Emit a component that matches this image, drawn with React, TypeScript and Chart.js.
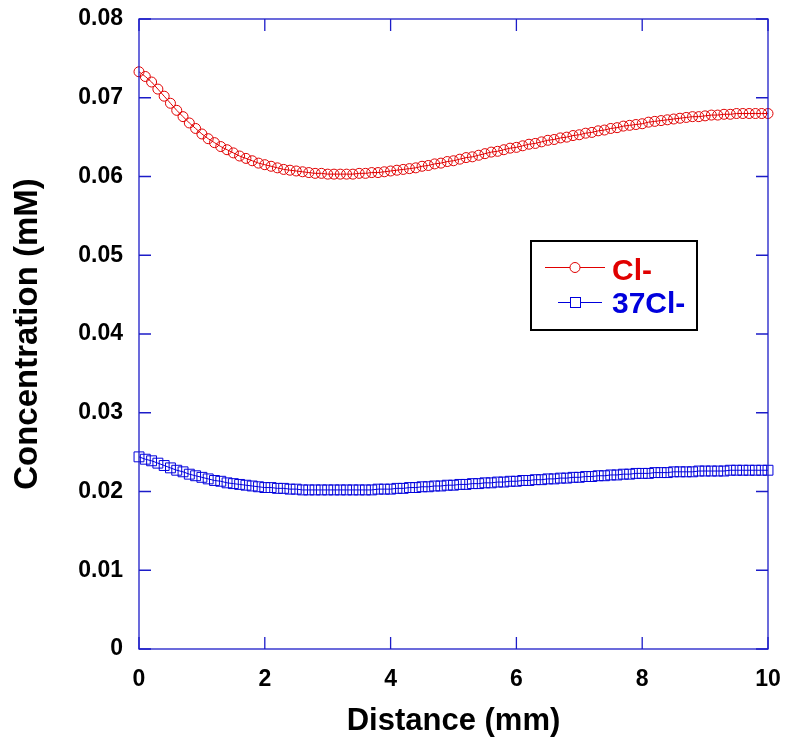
import React, { useEffect, useRef } from "react";
import { Chart, registerables } from "chart.js";

Chart.register(...registerables);

const distances = [
  0.0, 0.1, 0.2, 0.3, 0.4, 0.5, 0.6, 0.7, 0.8, 0.9,
  1.0, 1.1, 1.2, 1.3, 1.4, 1.5, 1.6, 1.7, 1.8, 1.9,
  2.0, 2.1, 2.2, 2.3, 2.4, 2.5, 2.6, 2.7, 2.8, 2.9,
  3.0, 3.1, 3.2, 3.3, 3.4, 3.5, 3.6, 3.7, 3.8, 3.9,
  4.0, 4.1, 4.2, 4.3, 4.4, 4.5, 4.6, 4.7, 4.8, 4.9,
  5.0, 5.1, 5.2, 5.3, 5.4, 5.5, 5.6, 5.7, 5.8, 5.9,
  6.0, 6.1, 6.2, 6.3, 6.4, 6.5, 6.6, 6.7, 6.8, 6.9,
  7.0, 7.1, 7.2, 7.3, 7.4, 7.5, 7.6, 7.7, 7.8, 7.9,
  8.0, 8.1, 8.2, 8.3, 8.4, 8.5, 8.6, 8.7, 8.8, 8.9,
  9.0, 9.1, 9.2, 9.3, 9.4, 9.5, 9.6, 9.7, 9.8, 9.9,
  10.0,
];

const clValues = [
  0.0733, 0.0727, 0.0720, 0.0711, 0.0702, 0.0693, 0.0684, 0.0676, 0.0668, 0.0661,
  0.0654, 0.0648, 0.0643, 0.0638, 0.0634, 0.0630, 0.0626, 0.0623, 0.0620, 0.0617,
  0.0615, 0.0613, 0.0611, 0.0609, 0.0608, 0.0607, 0.0606, 0.0605, 0.0604, 0.0604,
  0.0603, 0.0603, 0.0603, 0.0603, 0.0603, 0.0604, 0.0604, 0.0605, 0.0605, 0.0606,
  0.0607, 0.0608, 0.0609, 0.0610, 0.0611, 0.0613, 0.0614, 0.0616, 0.0617, 0.0619,
  0.0620, 0.0622, 0.0624, 0.0625, 0.0627, 0.0629, 0.0631, 0.0632, 0.0634, 0.0636,
  0.0637, 0.0639, 0.0641, 0.0642, 0.0644, 0.0646, 0.0647, 0.0649, 0.0650, 0.0652,
  0.0653, 0.0655, 0.0656, 0.0658, 0.0659, 0.0661, 0.0662, 0.0664, 0.0665, 0.0666,
  0.0667, 0.0669, 0.0670, 0.0671, 0.0672, 0.0673, 0.0674, 0.0675, 0.0676, 0.0676,
  0.0677, 0.0678, 0.0678, 0.0679, 0.0679, 0.0680, 0.0680, 0.0680, 0.0680, 0.0680,
  0.0680,
];

const cl37Values = [
  0.0244, 0.0241, 0.0239, 0.0236, 0.0233, 0.0230, 0.0227, 0.0225, 0.0222, 0.0220,
  0.0218, 0.0216, 0.0214, 0.0213, 0.0211, 0.0210, 0.0209, 0.0208, 0.0207, 0.0206,
  0.0205, 0.0205, 0.0204, 0.0204, 0.0203, 0.0203, 0.0202, 0.0202, 0.0202, 0.0202,
  0.0202, 0.0202, 0.0202, 0.0202, 0.0202, 0.0202, 0.0202, 0.0202, 0.0203, 0.0203,
  0.0203, 0.0204, 0.0204, 0.0205, 0.0205, 0.0206, 0.0206, 0.0207, 0.0207, 0.0208,
  0.0208, 0.0209, 0.0209, 0.0210, 0.0210, 0.0211, 0.0211, 0.0212, 0.0212, 0.0213,
  0.0213, 0.0214, 0.0214, 0.0215, 0.0215, 0.0216, 0.0216, 0.0217, 0.0217, 0.0218,
  0.0218, 0.0219, 0.0219, 0.0220, 0.0220, 0.0221, 0.0221, 0.0222, 0.0222, 0.0223,
  0.0223, 0.0223, 0.0224, 0.0224, 0.0224, 0.0225, 0.0225, 0.0225, 0.0225, 0.0226,
  0.0226, 0.0226, 0.0226, 0.0226, 0.0227, 0.0227, 0.0227, 0.0227, 0.0227, 0.0227,
  0.0227,
];

const seriesLabels = ["Cl-", "37Cl-"];
const xTitle = "Distance (mm)";
const yTitle = "Concentration (mM)";

const RED = "#e00000";
const BLUE = "#0000dd";
const AXIS = "#1c1cc8";
const FONT = "'Liberation Sans', Arial, Helvetica, sans-serif";

const framePlugin = {
  id: "frame",
  afterDatasetsDraw(chart: any) {
    const { ctx, chartArea: a, scales } = chart;
    ctx.save();
    ctx.strokeStyle = AXIS;
    ctx.lineWidth = 1.3;
    ctx.strokeRect(a.left, a.top, a.right - a.left, a.bottom - a.top);
    const tl = 12;
    ctx.beginPath();
    scales.x.ticks.forEach((t: any) => {
      const px = scales.x.getPixelForValue(t.value);
      ctx.moveTo(px, a.bottom);
      ctx.lineTo(px, a.bottom - tl);
      ctx.moveTo(px, a.top);
      ctx.lineTo(px, a.top + tl);
    });
    scales.y.ticks.forEach((t: any) => {
      const py = scales.y.getPixelForValue(t.value);
      ctx.moveTo(a.left, py);
      ctx.lineTo(a.left + tl, py);
      ctx.moveTo(a.right, py);
      ctx.lineTo(a.right - tl, py);
    });
    ctx.stroke();
    ctx.restore();
  },
};

const legendPlugin = {
  id: "boxLegend",
  afterDraw(chart: any) {
    const { ctx } = chart;
    ctx.save();
    ctx.fillStyle = "#ffffff";
    ctx.fillRect(531, 241, 166, 89);
    ctx.strokeStyle = "#000000";
    ctx.lineWidth = 2;
    ctx.strokeRect(531, 241, 166, 89);
    // row 1
    ctx.strokeStyle = RED;
    ctx.lineWidth = 1;
    ctx.beginPath();
    ctx.moveTo(545, 267.5);
    ctx.lineTo(605, 267.5);
    ctx.stroke();
    ctx.fillStyle = "#ffffff";
    ctx.beginPath();
    ctx.arc(575, 267.5, 5, 0, Math.PI * 2);
    ctx.fill();
    ctx.stroke();
    ctx.font = `bold 30px ${FONT}`;
    ctx.textBaseline = "middle";
    ctx.textAlign = "left";
    ctx.fillStyle = RED;
    ctx.fillText(seriesLabels[0], 612, 272);
    // row 2
    ctx.strokeStyle = BLUE;
    ctx.beginPath();
    ctx.moveTo(558, 302.5);
    ctx.lineTo(602, 302.5);
    ctx.stroke();
    ctx.fillStyle = "#ffffff";
    ctx.fillRect(570.5, 297.5, 10, 10);
    ctx.strokeRect(570.5, 297.5, 10, 10);
    ctx.fillStyle = BLUE;
    ctx.fillText(seriesLabels[1], 612, 305);
    ctx.restore();
  },
};

export default function App() {
  const ref = useRef<HTMLCanvasElement | null>(null);

  useEffect(() => {
    if (!ref.current) return;
    const chart = new Chart(ref.current, {
      type: "line",
      data: {
        datasets: [
          {
            label: seriesLabels[0],
            data: distances.map((d, i) => ({ x: d, y: clValues[i] })),
            borderColor: RED,
            borderWidth: 1,
            pointStyle: "circle",
            pointRadius: 5,
            pointBorderColor: RED,
            pointBorderWidth: 1,
            pointBackgroundColor: "rgba(0,0,0,0)",
            fill: false,
            tension: 0,
            clip: false as any,
          },
          {
            label: seriesLabels[1],
            data: distances.map((d, i) => ({ x: d, y: cl37Values[i] })),
            borderColor: BLUE,
            borderWidth: 1,
            pointStyle: "rect",
            pointRadius: 7,
            pointBorderColor: BLUE,
            pointBorderWidth: 1,
            pointBackgroundColor: "rgba(0,0,0,0)",
            fill: false,
            tension: 0,
            clip: false as any,
          },
        ],
      },
      options: {
        animation: false,
        responsive: false,
        devicePixelRatio: 1,
        layout: { padding: { left: 0, top: 19, right: 17, bottom: 0 } },
        plugins: {
          legend: { display: false },
          tooltip: { enabled: false },
        },
        scales: {
          x: {
            type: "linear",
            min: 0,
            max: 10,
            grid: { display: false, drawTicks: true, tickLength: 17 },
            border: { display: false },
            ticks: {
              stepSize: 2,
              padding: 0,
              color: "#000",
              font: { family: FONT, weight: "bold", size: 23 },
              maxRotation: 0,
            },
            title: {
              display: true,
              text: xTitle,
              color: "#000",
              font: { family: FONT, weight: "bold", size: 31 },
              padding: { top: 2, bottom: 0 },
            },
            afterFit(scale: any) {
              scale.height = 91;
            },
          },
          y: {
            type: "linear",
            min: 0,
            max: 0.08,
            grid: { display: false, drawTicks: true, tickLength: 16 },
            border: { display: false },
            ticks: {
              stepSize: 0.01,
              padding: 0,
              color: "#000",
              font: { family: FONT, weight: "bold", size: 23 },
              callback: (v: any) => {
                const n = Number(v);
                return Math.abs(n) < 1e-9 ? "0" : n.toFixed(2);
              },
            },
            title: {
              display: true,
              text: yTitle,
              color: "#000",
              font: { family: FONT, weight: "bold", size: 33 },
              padding: { top: 8, bottom: 0 },
            },
            afterFit(scale: any) {
              scale.width = 139;
            },
          },
        },
      },
      plugins: [framePlugin, legendPlugin],
    });
    return () => chart.destroy();
  }, []);

  return (
    <div style={{ position: "fixed", left: 0, top: 0, width: 785, height: 740, background: "#fff" }}>
      <canvas ref={ref} width={785} height={740} style={{ display: "block", width: 785, height: 740 }} />
    </div>
  );
}
